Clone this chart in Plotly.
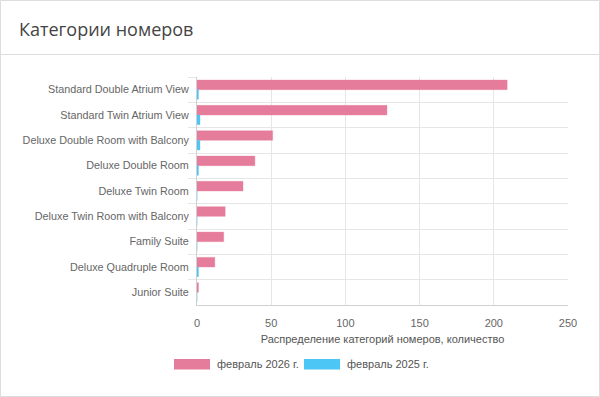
import plotly.graph_objects as go

categories = [
    "Standard Double Atrium View",
    "Standard Twin Atrium View",
    "Deluxe Double Room with Balcony",
    "Deluxe Double Room",
    "Deluxe Twin Room",
    "Deluxe Twin Room with Balcony",
    "Family Suite",
    "Deluxe Quadruple Room",
    "Junior Suite",
]
feb_2026 = [209, 128, 51, 39, 31, 19, 18, 12, 1]
feb_2025 = [1, 2, 2, 1, 0, 0, 0, 1, 0]
series_names = ["февраль 2026 г.", "февраль 2025 г."]
x_ticks = [0, 50, 100, 150, 200, 250]

W, H = 600, 397
L, R, T, B = 197, 32, 77, 92
PW, PH = W - L - R, H - T - B

def px(x):
    return (x - L) / PW

def py(y):
    return (H - B - y) / PH

PINK = "#e67c9b"
BLUE = "#4bc6f5"

fig = go.Figure()
fig.add_trace(go.Bar(y=categories, x=feb_2026, orientation="h", name=series_names[0],
                     marker=dict(color=PINK, line=dict(color="rgba(230,124,155,0.35)", width=1)),
                     showlegend=False))
fig.add_trace(go.Bar(y=categories, x=feb_2025, orientation="h", name=series_names[1],
                     marker=dict(color=BLUE, line=dict(color="rgba(75,198,245,0.35)", width=1)),
                     showlegend=False))

shapes = [
    dict(type="rect", xref="paper", yref="paper", x0=px(0.5), x1=px(599.5), y0=py(0.5), y1=py(396.5),
         line=dict(color="#dddddd", width=1), fillcolor="rgba(0,0,0,0)", layer="below"),
    dict(type="line", xref="paper", yref="paper", x0=px(0.5), x1=px(599.5), y0=py(54.5), y1=py(54.5),
         line=dict(color="#dddddd", width=1)),
    dict(type="rect", xref="paper", yref="paper", x0=px(174), x1=px(210), y0=py(359), y1=py(369.5),
         line=dict(width=0), fillcolor=PINK),
    dict(type="rect", xref="paper", yref="paper", x0=px(304), x1=px(340), y0=py(359), y1=py(369.5),
         line=dict(width=0), fillcolor=BLUE),
]
annotations = [
    dict(text="Категории номеров", xref="paper", yref="paper", x=px(17), y=py(29), xanchor="left",
         yanchor="middle", showarrow=False, font=dict(family="Open Sans", size=18, color="#444444")),
    dict(text=series_names[0], xref="paper", yref="paper", x=px(215), y=py(364), xanchor="left",
         yanchor="middle", showarrow=False, font=dict(family="Liberation Sans, Arial", size=11, color="#555555")),
    dict(text=series_names[1], xref="paper", yref="paper", x=px(345), y=py(364), xanchor="left",
         yanchor="middle", showarrow=False, font=dict(family="Liberation Sans, Arial", size=11, color="#555555")),
]

fig.update_layout(
    width=W, height=H,
    margin=dict(l=L, r=R, t=T, b=B, pad=0),
    paper_bgcolor="white", plot_bgcolor="white",
    barmode="group", bargap=0.24, bargroupgap=0.0,
    font=dict(family="Liberation Sans, Arial", size=12, color="#666666"),
    shapes=shapes, annotations=annotations, showlegend=False,
    xaxis=dict(range=[0, 250], tickvals=x_ticks, ticktext=[str(v) for v in x_ticks],
               showgrid=True, gridcolor="#e6e6e6", gridwidth=1, zeroline=False,
               showline=True, linecolor="#d0d0d0", linewidth=1, mirror=False,
               ticks="", ticklabelstandoff=8, tickfont=dict(size=11, color="#666666"),
               title=dict(text="Распределение категорий номеров, количество",
                          font=dict(size=11, color="#555555"), standoff=7)),
    yaxis=dict(autorange="reversed", tickson="boundaries", ticks="outside", ticklen=8,
               tickcolor="#e6e6e6", showgrid=True, gridcolor="#e6e6e6", gridwidth=1,
               showline=True, linecolor="#d0d0d0", linewidth=1,
               tickfont=dict(size=10.8, color="#666666"), ticklabelstandoff=5),
)

fig.write_html("out.html", config={"displayModeBar": False},
               post_script="document.body.style.margin='0';document.body.style.overflow='hidden';")
